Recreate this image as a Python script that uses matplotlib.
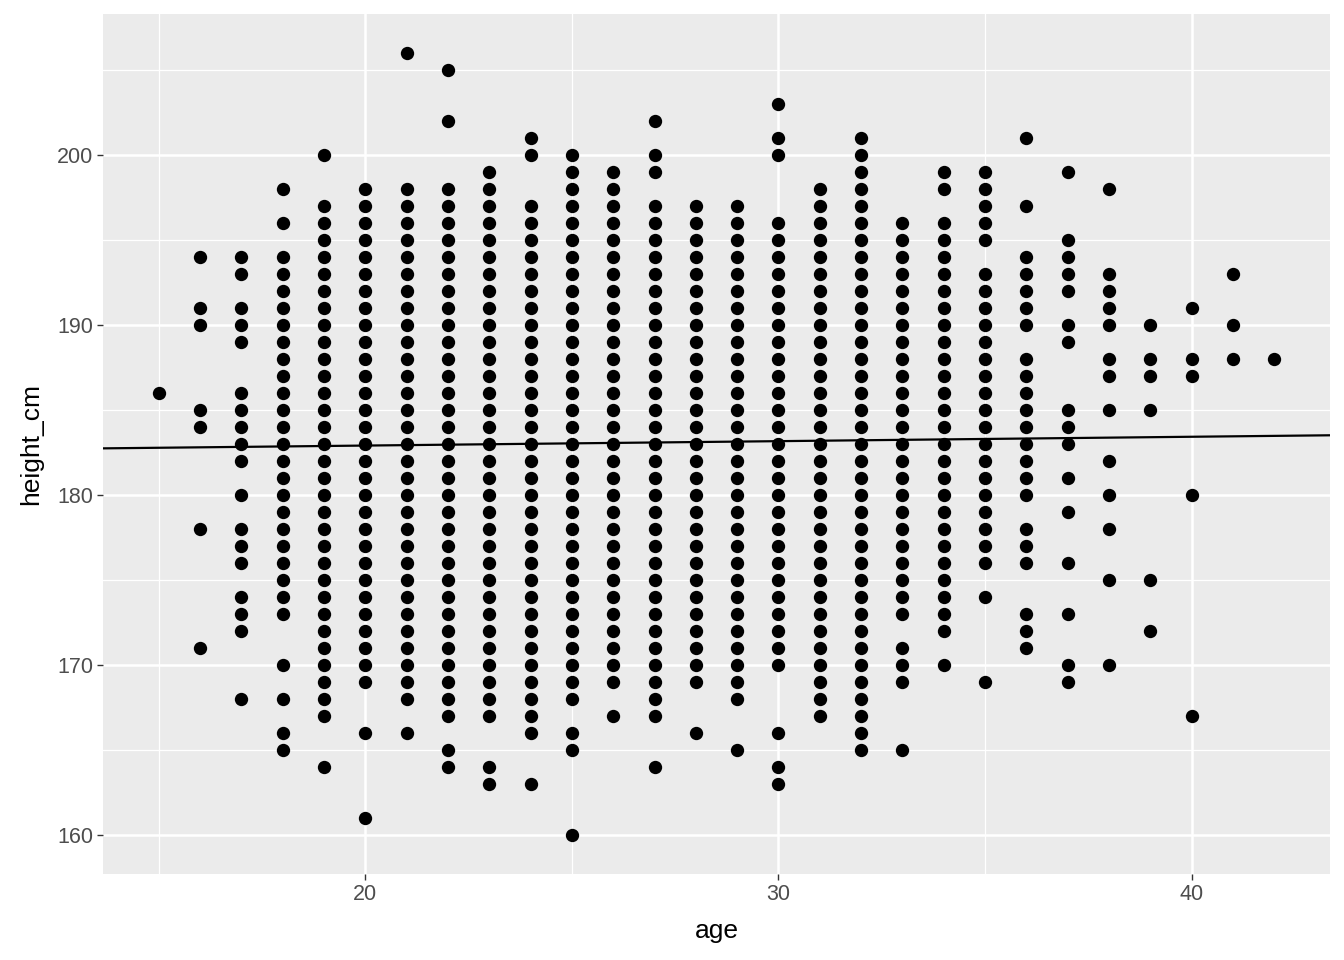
import numpy as np
import matplotlib
matplotlib.use("Agg")
import matplotlib.pyplot as plt
from matplotlib.ticker import MultipleLocator

plt.rcParams['font.family'] = ['Liberation Sans', 'DejaVu Sans']

# heights (cm), one list per age
ages = [15, 16, 17, 18, 19, 20, 21, 22, 23, 24, 25, 26, 27, 28,
        29, 30, 31, 32, 33, 34, 35, 36, 37, 38, 39, 40, 41, 42]

h15 = [186]
h16 = [194, 191, 190, 185, 184, 178, 171]
h17 = [194, 193, 191, 190, 189, 186, 185, 184, 183, 182, 180, 178, 177,
       176, 174, 173, 172, 168]
h18 = [198, 196, 194, 193, 192, 191, 190, 189, 188, 187, 186, 185, 184,
       183, 182, 181, 180, 179, 178, 177, 176, 175, 174, 173, 170, 168,
       166, 165]
h19 = [200, 197, 196, 195, 194, 193, 192, 191, 190, 189, 188, 187, 186,
       185, 184, 183, 182, 181, 180, 179, 178, 177, 176, 175, 174, 173,
       172, 171, 170, 169, 168, 167, 164]
h20 = [198, 197, 196, 195, 194, 193, 192, 191, 190, 189, 188, 187, 186,
       185, 184, 183, 182, 181, 180, 179, 178, 177, 176, 175, 174, 173,
       172, 171, 170, 169, 166, 161]
h21 = [206, 198, 197, 196, 195, 194, 193, 192, 191, 190, 189, 188, 187,
       186, 185, 184, 183, 182, 181, 180, 179, 178, 177, 176, 175, 174,
       173, 172, 171, 170, 169, 168, 166]
h22 = [205, 202, 198, 197, 196, 195, 194, 193, 192, 191, 190, 189, 188,
       187, 186, 185, 184, 183, 182, 181, 180, 179, 178, 177, 176, 175,
       174, 173, 172, 171, 170, 169, 168, 167, 165, 164]
h23 = [199, 198, 197, 196, 195, 194, 193, 192, 191, 190, 189, 188, 187,
       186, 185, 184, 183, 182, 181, 180, 179, 178, 177, 176, 175, 174,
       173, 172, 171, 170, 169, 168, 167, 164, 163]
h24 = [201, 200, 197, 196, 195, 194, 193, 192, 191, 190, 189, 188, 187,
       186, 185, 184, 183, 182, 181, 180, 179, 178, 177, 176, 175, 174,
       173, 172, 171, 170, 169, 168, 167, 166, 163]
h25 = [200, 199, 198, 197, 196, 195, 194, 193, 192, 191, 190, 189, 188,
       187, 186, 185, 184, 183, 182, 181, 180, 179, 178, 177, 176, 175,
       174, 173, 172, 171, 170, 169, 168, 166, 165, 160]
h26 = [199, 198, 197, 196, 195, 194, 193, 192, 191, 190, 189, 188, 187,
       186, 185, 184, 183, 182, 181, 180, 179, 178, 177, 176, 175, 174,
       173, 172, 171, 170, 169, 167]
h27 = [202, 200, 199, 197, 196, 195, 194, 193, 192, 191, 190, 189, 188,
       187, 186, 185, 184, 183, 182, 181, 180, 179, 178, 177, 176, 175,
       174, 173, 172, 171, 170, 169, 168, 167, 164]
h28 = [197, 196, 195, 194, 193, 192, 191, 190, 189, 188, 187, 186, 185,
       184, 183, 182, 181, 180, 179, 178, 177, 176, 175, 174, 173, 172,
       171, 170, 169, 166]
h29 = [197, 196, 195, 194, 193, 192, 191, 190, 189, 188, 187, 186, 185,
       184, 183, 182, 181, 180, 179, 178, 177, 176, 175, 174, 173, 172,
       171, 170, 169, 168, 165]
h30 = [203, 201, 200, 196, 195, 194, 193, 192, 191, 190, 189, 188, 187,
       186, 185, 184, 183, 182, 181, 180, 179, 178, 177, 176, 175, 174,
       173, 172, 171, 170, 166, 164, 163]
h31 = [198, 197, 196, 195, 194, 193, 192, 191, 190, 189, 188, 187, 186,
       185, 184, 183, 182, 181, 180, 179, 178, 177, 176, 175, 174, 173,
       172, 171, 170, 169, 168, 167]
h32 = [201, 200, 199, 198, 197, 196, 195, 194, 193, 192, 191, 190, 189,
       188, 187, 186, 185, 184, 183, 182, 181, 180, 179, 178, 177, 176,
       175, 174, 173, 172, 171, 170, 169, 168, 167, 166, 165]
h33 = [196, 195, 194, 193, 192, 191, 190, 189, 188, 187, 186, 185, 184,
       183, 182, 181, 180, 179, 178, 177, 176, 175, 174, 173, 171, 170,
       169, 165]
h34 = [199, 198, 196, 195, 194, 193, 192, 191, 190, 189, 188, 187, 186,
       185, 184, 183, 182, 181, 180, 179, 178, 177, 176, 175, 174, 173,
       172, 170]
h35 = [199, 198, 197, 196, 195, 193, 192, 191, 190, 189, 188, 187, 186,
       185, 184, 183, 182, 181, 180, 179, 178, 177, 176, 174, 169]
h36 = [201, 197, 194, 193, 192, 191, 190, 188, 187, 186, 185, 184, 183,
       182, 181, 180, 178, 177, 176, 173, 172, 171]
h37 = [199, 195, 194, 193, 192, 190, 189, 185, 184, 183, 181, 179, 176,
       173, 170, 169]
h38 = [198, 193, 192, 191, 190, 188, 187, 185, 182, 180, 178, 175, 170]
h39 = [190, 188, 187, 185, 175, 172]
h40 = [191, 188, 187, 180, 167]
h41 = [193, 190, 188]
h42 = [188]

heights = [h15, h16, h17, h18, h19, h20, h21, h22, h23, h24, h25, h26, h27,
           h28, h29, h30, h31, h32, h33, h34, h35, h36, h37, h38, h39, h40,
           h41, h42]

# fitted line
line_intercept = 182.39
line_slope = 0.0259

x = np.concatenate([[a] * len(h) for a, h in zip(ages, heights)])
y = np.concatenate(heights)

fig = plt.figure(figsize=(13.44, 9.6), dpi=100)
ax = fig.add_axes([103 / 1344, 1 - 874 / 960, (1330 - 103) / 1344, (874 - 14) / 960])
ax.set_facecolor('#EBEBEB')

ax.xaxis.set_major_locator(MultipleLocator(10))
ax.xaxis.set_minor_locator(MultipleLocator(5))
ax.yaxis.set_major_locator(MultipleLocator(10))
ax.yaxis.set_minor_locator(MultipleLocator(5))
ax.grid(which='major', color='white', linewidth=1.8)
ax.grid(which='minor', color='white', linewidth=0.9)
ax.set_axisbelow(True)

ax.scatter(x, y, s=92, color='black', linewidths=0, zorder=3)
ax.axline((0, line_intercept), slope=line_slope, color='black', linewidth=1.6, zorder=4)

xr = max(ages) - min(ages)
ax.set_xlim(min(ages) - 0.05 * xr, max(ages) + 0.05 * xr)
yr = y.max() - y.min()
ax.set_ylim(y.min() - 0.05 * yr, y.max() + 0.05 * yr)

for s in ax.spines.values():
    s.set_visible(False)
ax.tick_params(which='major', length=4, width=1.0, color='#333333',
               labelsize=15.5, labelcolor='#4D4D4D', pad=3)
ax.tick_params(which='minor', length=0)

ax.set_xlabel('age', fontsize=19, labelpad=10)
ax.set_ylabel('height_cm', fontsize=19, labelpad=10)

fig.savefig('out.png', dpi=100)
